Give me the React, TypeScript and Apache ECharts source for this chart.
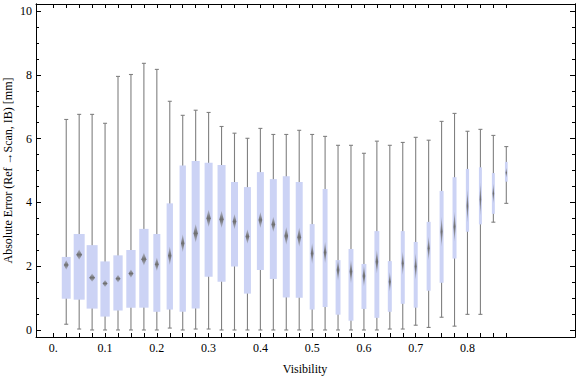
import React, { useEffect, useRef } from "react";
import * as echarts from "echarts";

// Visibility bins (category positions)
const visibility = [
  0.025, 0.05, 0.075, 0.1, 0.125, 0.15, 0.175, 0.2, 0.225, 0.25, 0.275, 0.3,
  0.325, 0.35, 0.375, 0.4, 0.425, 0.45, 0.475, 0.5, 0.525, 0.55, 0.575, 0.6,
  0.625, 0.65, 0.675, 0.7, 0.725, 0.75, 0.775, 0.8, 0.825, 0.85, 0.875,
];
const whiskerLow = [
  0.18, 0.03, 0.0, 0.0, 0.0, 0.0, 0.0, 0.0, 0.06, 0.0, 0.03, 0.03, 0.0, 0.0,
  0.0, 0.0, 0.0, 0.0, 0.0, 0.0, 0.0, 0.0, 0.0, 0.0, 0.0, 0.03, 0.03, 0.15,
  0.08, 0.4, 0.12, 0.49, 0.49, 3.38, 3.97,
];
const quartile1 = [
  0.98, 0.95, 0.67, 0.42, 0.61, 0.7, 0.7, 0.57, 0.64, 0.57, 0.67, 1.67, 1.51,
  1.99, 1.14, 1.88, 1.6, 1.02, 1.01, 0.64, 0.72, 0.48, 0.29, 0.66, 0.38, 0.57,
  0.82, 0.7, 1.23, 1.48, 2.24, 3.08, 3.31, 3.64, 4.65,
];
const quartile3 = [
  2.29, 3.01, 2.66, 2.15, 2.34, 2.51, 3.17, 3.01, 3.97, 5.16, 5.3, 5.24, 5.17,
  4.64, 4.48, 4.95, 4.73, 4.82, 4.64, 3.32, 4.42, 2.19, 2.54, 2.07, 3.1, 2.16,
  3.1, 2.76, 3.39, 4.36, 4.79, 5.05, 5.1, 4.92, 5.27,
];
const whiskerHigh = [
  6.6, 6.76, 6.76, 6.48, 7.95, 8.01, 8.36, 8.17, 7.17, 6.73, 6.89, 6.82, 6.38,
  6.17, 6.01, 6.32, 6.13, 6.13, 6.26, 6.13, 6.07, 5.79, 5.79, 5.54, 5.92, 5.79,
  5.88, 6.04, 5.95, 6.54, 6.79, 6.23, 6.29, 6.1, 5.75,
];
const meanValue = [
  2.04, 2.36, 1.64, 1.46, 1.61, 1.77, 2.22, 2.06, 2.33, 2.72, 3.03, 3.5, 3.47,
  3.4, 2.93, 3.45, 3.31, 2.95, 2.91, 2.4, 2.43, 1.88, 1.83, 1.69, 2.14, 1.51,
  2.09, 1.99, 2.56, 3.08, 3.24, 3.89, 4.1, 4.28, 4.93,
];
const meanSpread = [
  0.15, 0.16, 0.13, 0.11, 0.12, 0.13, 0.2, 0.21, 0.29, 0.28, 0.29, 0.27, 0.27,
  0.24, 0.23, 0.25, 0.24, 0.28, 0.3, 0.33, 0.34, 0.34, 0.37, 0.33, 0.37, 0.31,
  0.37, 0.42, 0.37, 0.47, 0.47, 0.52, 0.52, 0.31, 0.16,
];
// relative sample weight (drives box width)
const sampleWeight = [
  0.69, 0.85, 0.85, 0.72, 0.72, 0.72, 0.72, 0.54, 0.49, 0.49, 0.62, 0.62, 0.62,
  0.54, 0.54, 0.54, 0.54, 0.54, 0.54, 0.38, 0.38, 0.38, 0.38, 0.38, 0.38, 0.31,
  0.31, 0.31, 0.31, 0.31, 0.31, 0.25, 0.23, 0.23, 0.21,
];

const xTickValues = [
  0, 0.025, 0.05, 0.075, 0.1, 0.125, 0.15, 0.175, 0.2, 0.225, 0.25, 0.275, 0.3,
  0.325, 0.35, 0.375, 0.4, 0.425, 0.45, 0.475, 0.5, 0.525, 0.55, 0.575, 0.6,
  0.625, 0.65, 0.675, 0.7, 0.725, 0.75, 0.775, 0.8, 0.825, 0.85, 0.875,
];
const xLabelValues = [0, 0.1, 0.2, 0.3, 0.4, 0.5, 0.6, 0.7, 0.8];
const yMajorValues = [0, 2, 4, 6, 8, 10];
const yMinorValues = [
  0, 0.5, 1, 1.5, 2, 2.5, 3, 3.5, 4, 4.5, 5, 5.5, 6, 6.5, 7, 7.5, 8, 8.5, 9,
  9.5, 10,
];

const X_MIN = -0.0334;
const X_MAX = 1.0077;
const Y_MIN = -0.22;
const Y_MAX = 10.22;
const SLOT = 0.025;

export default function App() {
  const ref = useRef<HTMLDivElement>(null);
  useEffect(() => {
    const chart = echarts.init(ref.current!, null, { renderer: "svg" });
    const font = "'Liberation Serif', 'Times New Roman', serif";
    const data = visibility.map((v, i) => [
      v,
      whiskerLow[i],
      quartile1[i],
      quartile3[i],
      whiskerHigh[i],
      meanValue[i],
      meanSpread[i],
      sampleWeight[i],
    ]);
    const frameLine = { show: true, onZero: false, lineStyle: { color: "#000", width: 1 } };
    const baseX = {
      type: "value" as const,
      min: X_MIN,
      max: X_MAX,
      splitLine: { show: false },
      axisLine: frameLine,
    };
    const baseY = {
      type: "value" as const,
      min: Y_MIN,
      max: Y_MAX,
      splitLine: { show: false },
      axisLine: frameLine,
    };
    const labelStyle = { color: "#000", fontFamily: font, fontSize: 12 };

    chart.setOption({
      animation: false,
      grid: { left: 36, right: 1, top: 4, bottom: 40, containLabel: false },
      xAxis: [
        {
          ...baseX,
          position: "bottom",
          axisTick: {
            show: true,
            inside: true,
            length: 4,
            customValues: xTickValues,
            lineStyle: { color: "#000" },
          },
          axisLabel: {
            show: true,
            customValues: xLabelValues,
            margin: 5,
            ...labelStyle,
            formatter: (v: number) => (v === 0 ? "0." : v.toFixed(1)),
          },
        },
        {
          ...baseX,
          position: "top",
          axisTick: {
            show: true,
            inside: true,
            length: 4,
            customValues: xTickValues,
            lineStyle: { color: "#000" },
          },
          axisLabel: { show: false },
        },
      ],
      yAxis: [
        {
          ...baseY,
          position: "left",
          axisTick: {
            show: true,
            inside: true,
            length: 5,
            customValues: yMajorValues,
            lineStyle: { color: "#000" },
          },
          axisLabel: {
            show: true,
            customValues: yMajorValues,
            margin: 4,
            ...labelStyle,
          },
        },
        {
          ...baseY,
          position: "left",
          axisTick: {
            show: true,
            inside: true,
            length: 3,
            customValues: yMinorValues,
            lineStyle: { color: "#000" },
          },
          axisLabel: { show: false },
        },
        {
          ...baseY,
          position: "right",
          axisTick: {
            show: true,
            inside: true,
            length: 5,
            customValues: yMajorValues,
            lineStyle: { color: "#000" },
          },
          axisLabel: { show: false },
        },
        {
          ...baseY,
          position: "right",
          axisTick: {
            show: true,
            inside: true,
            length: 3,
            customValues: yMinorValues,
            lineStyle: { color: "#000" },
          },
          axisLabel: { show: false },
        },
      ],
      graphic: [
        {
          type: "text",
          x: 8,
          y: 170.5,
          rotation: Math.PI / 2,
          style: {
            text: "Absolute Error (Ref \u2192Scan, IB) [mm]",
            font: `12px ${font}`,
            fill: "#000",
            align: "center",
            verticalAlign: "middle",
          },
        },
        {
          type: "text",
          x: 305,
          y: 369,
          style: {
            text: "Visibility",
            font: `12px ${font}`,
            fill: "#000",
            align: "center",
            verticalAlign: "middle",
          },
        },
      ],
      series: [
        {
          type: "custom",
          xAxisIndex: 0,
          yAxisIndex: 0,
          data,
          encode: { x: 0, y: [1, 2, 3, 4] },
          renderItem: (params: any, api: any) => {
            const x = api.value(0);
            const pLow = api.coord([x, api.value(1)]);
            const pQ1 = api.coord([x, api.value(2)]);
            const pQ3 = api.coord([x, api.value(3)]);
            const pHigh = api.coord([x, api.value(4)]);
            const m = api.value(5);
            const pMean = api.coord([x, m]);
            const pMeanTop = api.coord([x, m + api.value(6)]);
            const w = api.size([SLOT * api.value(7), 0])[0];
            const cx = pLow[0];
            const dh = pMean[1] - pMeanTop[1];
            const dw = w * 0.27;
            const whisk = { stroke: "#808080", lineWidth: 1.1 };
            return {
              type: "group",
              children: [
                {
                  type: "line",
                  shape: { x1: cx, y1: pLow[1], x2: cx, y2: pHigh[1] },
                  style: whisk,
                },
                {
                  type: "line",
                  shape: { x1: cx - 2, y1: pLow[1], x2: cx + 2, y2: pLow[1] },
                  style: whisk,
                },
                {
                  type: "line",
                  shape: { x1: cx - 2, y1: pHigh[1], x2: cx + 2, y2: pHigh[1] },
                  style: whisk,
                },
                {
                  type: "rect",
                  shape: { x: cx - w / 2, y: pQ3[1], width: w, height: pQ1[1] - pQ3[1] },
                  style: { fill: "#ccd3f5" },
                },
                {
                  type: "polygon",
                  shape: {
                    points: [
                      [cx, pMean[1] - dh],
                      [cx + dw, pMean[1]],
                      [cx, pMean[1] + dh],
                      [cx - dw, pMean[1]],
                    ],
                  },
                  style: {
                    fill: new echarts.graphic.LinearGradient(0, 0, 0, 1, [
                      { offset: 0, color: "rgba(125,125,125,0.35)" },
                      { offset: 0.5, color: "rgba(110,110,110,1)" },
                      { offset: 1, color: "rgba(125,125,125,0.35)" },
                    ]),
                  },
                },
              ],
            };
          },
        },
      ],
    });
    return () => chart.dispose();
  }, []);
  return (
    <div
      ref={ref}
      style={{ position: "absolute", left: 0, top: 0, width: 576, height: 377, background: "#fff" }}
    />
  );
}
